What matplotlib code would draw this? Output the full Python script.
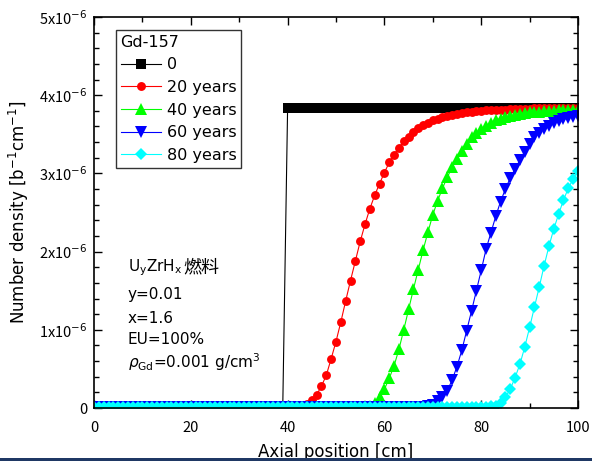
import numpy as np
import matplotlib
matplotlib.use('Agg')
import matplotlib.pyplot as plt
from matplotlib.ticker import MultipleLocator, FixedLocator, FixedFormatter
from matplotlib.patches import Rectangle
from matplotlib.lines import Line2D

plt.rcParams['font.family'] = ['DejaVu Sans', 'Noto Sans CJK JP']
plt.rcParams['mathtext.fontset'] = 'dejavusans'
CJK = ['Noto Sans CJK JP', 'DejaVu Sans']

# axial positions [cm]
position = np.arange(0, 101)

# number density of Gd-157 [1e-6 / (b cm)]
base = 0.015  # level of the flat part near zero
dens_0 = [base] * 40 + [3.83] * 61
dens_20 = [base] * 42 + [
    0.02, 0.03, 0.05, 0.10, 0.17, 0.28, 0.42, 0.63, 0.85, 1.10,
    1.37, 1.63, 1.88, 2.13, 2.35, 2.55, 2.72, 2.87, 3.01, 3.14,
    3.24, 3.33, 3.41, 3.47, 3.53, 3.58, 3.62, 3.65, 3.68, 3.70,
    3.72, 3.74, 3.75, 3.76, 3.77, 3.78, 3.79, 3.795, 3.80, 3.805,
    3.81, 3.81, 3.815, 3.815, 3.82, 3.82, 3.82, 3.825, 3.825] + [3.83] * 10
dens_40 = [base] * 56 + [
    0.02, 0.03, 0.07, 0.14, 0.24, 0.38, 0.54, 0.75, 1.00, 1.26,
    1.52, 1.77, 2.02, 2.25, 2.47, 2.65, 2.81, 2.95, 3.08, 3.19,
    3.29, 3.38, 3.46, 3.52, 3.57, 3.61, 3.65, 3.68, 3.70, 3.72,
    3.74, 3.75, 3.76, 3.77, 3.78, 3.785, 3.79, 3.795, 3.80, 3.80,
    3.805, 3.81, 3.81, 3.815, 3.815]
dens_60 = [base] * 69 + [
    0.02, 0.04, 0.09, 0.14, 0.22, 0.36, 0.53, 0.74, 0.99, 1.24,
    1.50, 1.76, 2.03, 2.24, 2.45, 2.64, 2.80, 2.94, 3.06, 3.17,
    3.28, 3.38, 3.46, 3.52, 3.57, 3.61, 3.64, 3.67, 3.69, 3.71,
    3.72, 3.74]
dens_80 = [base] * 82 + [
    0.02, 0.03, 0.07, 0.14, 0.24, 0.39, 0.56, 0.78, 1.03, 1.29,
    1.55, 1.82, 2.07, 2.29, 2.48, 2.66, 2.81, 2.93, 3.03]

labels = ['0', '20 years', '40 years', '60 years', '80 years']
colors = ['black', '#ff0000', '#00ff00', '#0000ff', '#00ffff']
markers = ['s', 'o', '^', 'v', 'D']
sizes = [6.5, 6.4, 8, 8, 6.5]
series = [dens_0, dens_20, dens_40, dens_60, dens_80]

fig = plt.figure(figsize=(5.92, 4.61), dpi=100)
ax = fig.add_axes([94 / 592, 1 - 408 / 461, 484 / 592, 391 / 461])

handles = []
for vals, lab, c, m, s in zip(series, labels, colors, markers, sizes):
    y = np.array(vals) * 1e-6
    ax.plot(position, y, color=c, lw=0.8, marker=m, ms=s, mec=c, mfc=c, mew=0)
    handles.append(Line2D([], [], color=c, lw=0.8, marker=m, ms=s, mec=c, mfc=c, mew=0))

ax.set_xlim(0, 100)
ax.set_ylim(0, 5e-6)
ax.xaxis.set_major_locator(MultipleLocator(20))
ax.xaxis.set_minor_locator(MultipleLocator(10))
yt = [0, 1e-6, 2e-6, 3e-6, 4e-6, 5e-6]
ax.yaxis.set_major_locator(FixedLocator(yt))
ax.yaxis.set_major_formatter(FixedFormatter(['0'] + ['%dx10$^{-6}$' % i for i in range(1, 6)]))
ax.yaxis.set_minor_locator(MultipleLocator(0.2e-6))
ax.tick_params(which='both', direction='in', top=True, right=True, width=1)
ax.tick_params(which='major', length=6)
ax.tick_params(which='minor', length=3.5)
ax.tick_params(axis='x', labelsize=10.5, pad=9)
ax.tick_params(axis='y', labelsize=10.5, pad=5)
for lab in ax.get_xticklabels() + ax.get_yticklabels():
    lab.set_family(CJK)
for sp in ax.spines.values():
    sp.set_linewidth(1.2)

ax.set_xlabel('Axial position [cm]', fontsize=12, labelpad=6)
ax.set_ylabel('Number density [b$^{-1}$cm$^{-1}$]', fontsize=12, labelpad=6)

leg = ax.legend(handles, labels, title='Gd-157', loc='upper left',
                bbox_to_anchor=(0.045, 0.967), borderaxespad=0, fontsize=11.5,
                title_fontsize=11.5, fancybox=False, edgecolor='black',
                handlelength=2.5, handletextpad=0.4, labelspacing=0.48,
                borderpad=0.3, alignment='left')
leg.get_frame().set_linewidth(1.0)

notes = ['U$_\\mathrm{y}$ZrH$_\\mathrm{x}$', 'y=0.01', 'x=1.6', 'EU=100%',
         '$\\rho_\\mathrm{Gd}$=0.001 g/cm$^3$']
note_y = [0.358, 0.29, 0.23, 0.174, 0.118]
note_texts = []
for t, yy in zip(notes, note_y):
    note_texts.append(ax.text(0.07, yy, t, transform=ax.transAxes, fontsize=11,
                              va='center', ha='left'))
ax.annotate('燃料', xy=(1, 0.55), xycoords=note_texts[0], xytext=(0.5, 0),
            textcoords='offset points', fontsize=13, va='center', ha='left',
            family=CJK)

fig.add_artist(Rectangle((0, 0), 1, 3.5 / 461, transform=fig.transFigure,
                         color='#1f3864', lw=0))

fig.savefig('out.png', dpi=100)
